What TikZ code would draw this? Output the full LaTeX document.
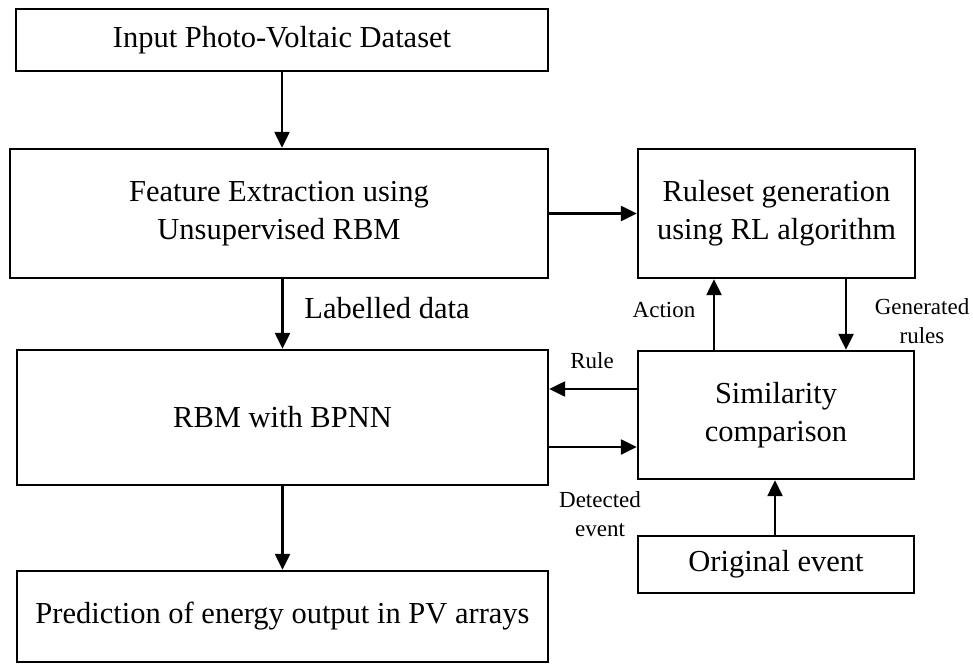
\documentclass[tikz,border=0pt]{standalone}
\usepackage{fontspec}
\setmainfont{Liberation Serif}
\usetikzlibrary{arrows.meta}

\tikzset{
  box/.style={draw=black, line width=2.4pt, fill=white, align=center, inner sep=0pt,
              font=\fontsize{30.5}{38}\selectfont},
  arr/.style={draw=black, line width=2.4pt, -{Triangle[length=16pt,width=15pt]}},
  lbl/.style={align=center, inner sep=0pt, font=\fontsize{23}{29}\selectfont},
  biglbl/.style={align=center, inner sep=0pt, font=\fontsize{30.5}{38}\selectfont}
}

\begin{document}
\begin{tikzpicture}[x=1pt,y=-1pt]
  \useasboundingbox (0,0) rectangle (973,663);

  % processing blocks
  \node[box, minimum width=532pt, minimum height=62pt]  (in)   at (282,40)    {Input Photo-Voltaic Dataset};
  \node[box, minimum width=538pt, minimum height=129pt] (feat) at (279,213.5) {Feature Extraction using\\Unsupervised RBM};
  \node[box, minimum width=277pt, minimum height=129pt] (rule) at (776.5,213.5) {Ruleset generation\\using RL algorithm};
  \node[box, minimum width=531pt, minimum height=135pt] (rbm)  at (282.5,417.5) {RBM with BPNN};
  \node[box, minimum width=276pt, minimum height=128pt] (sim)  at (776,415)   {Similarity\\comparison};
  \node[box, minimum width=276pt, minimum height=57pt]  (orig) at (776,564.5) {Original event};
  \node[box, minimum width=531pt, minimum height=91pt]  (pred) at (282.5,616.5) {Prediction of energy output in PV arrays};

  % main flow
  \draw[arr] (in.south) -- (in.south |- feat.north);
  \draw[arr] (feat.south -| rbm.north) -- (rbm.north);
  \draw[arr] (rbm.south) -- (pred.north);
  \draw[arr] (feat.east) -- (feat.east -| rule.west);

  % rule-learning loop
  \draw[arr] ([xshift=-62pt]sim.north) -- ([xshift=-62pt]sim.north |- rule.south);
  \draw[arr] ([xshift=70pt]sim.north |- rule.south) -- ([xshift=70pt]sim.north);
  \draw[arr] ([yshift=26pt]sim.west) -- ([yshift=26pt]sim.west -| rbm.east);
  \draw[arr] ([yshift=-32pt]sim.west -| rbm.east) -- ([yshift=-32pt]sim.west);
  \draw[arr] (orig.north -| 775,0) -- (sim.south -| 775,0);

  % connector labels
  \node[biglbl] (lab)  at (387,308) {Labelled data};
  \node[lbl]    (act)  at (664,310) {Action};
  \node[lbl]    (gen)  at (922,321) {Generated\\rules};
  \node[lbl]    (rl)   at (592,361) {Rule};
  \node[lbl]    (det)  at (600,514) {Detected\\event};
\end{tikzpicture}
\end{document}
